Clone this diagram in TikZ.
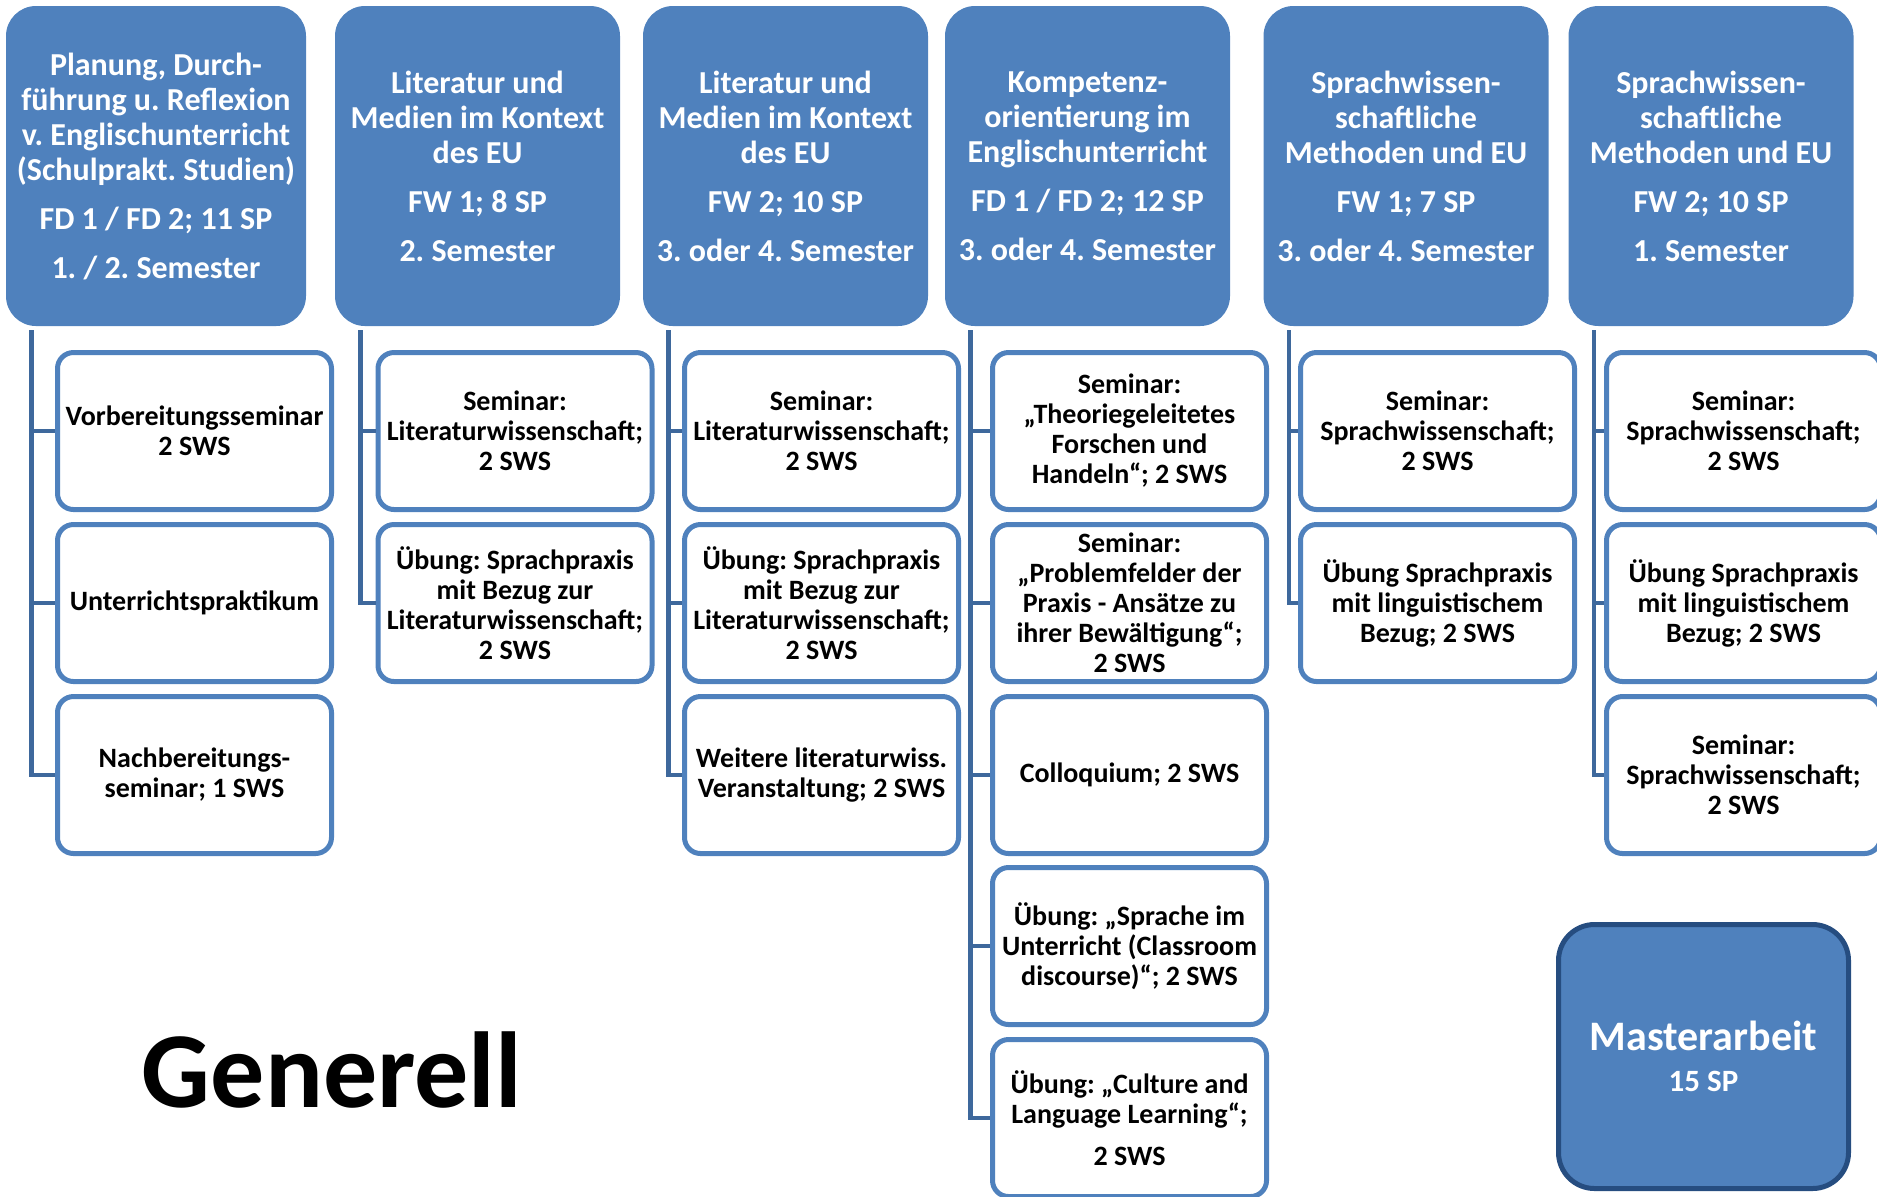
\documentclass[tikz,border=0pt]{standalone}
\usepackage{fontspec}
\setmainfont{Carlito}
\definecolor{eublue}{RGB}{79,129,189}
\definecolor{eulink}{RGB}{62,104,156}
\definecolor{eudark}{RGB}{38,77,128}
\frenchspacing
\begin{document}
\begin{tikzpicture}[x=0.5pt,y=-0.5pt,
	modul/.style={rectangle,rounded corners=15pt,fill=eublue,text=white,align=center,
	font=\fontsize{16}{17.5}\selectfont\bfseries,minimum width=142.5pt,minimum height=160pt,inner sep=2pt},
	kurs/.style={rectangle,rounded corners=8pt,draw=eublue,line width=2.5pt,fill=white,align=center,
	font=\fontsize{14}{15}\selectfont\bfseries,minimum width=137pt,minimum height=78.5pt,inner sep=2pt},
	zweig/.style={draw=eulink,line width=2.2pt}]
\useasboundingbox (0,0) rectangle (1877,1196);
% Module
\node[modul,minimum width=150pt] (h1) at (156,166) {Planung, Durch-\\führung u. Reflexion\\v. Englischunterricht\\(Schulprakt. Studien)\\[7pt]FD 1 / FD 2; 11 SP\\[7pt]1. / 2. Semester};
\node[modul] (h2) at (477.5,166) {Literatur und\\Medien im Kontext\\des EU\\[7pt]FW 1; 8 SP\\[7pt]2. Semester};
\node[modul] (h3) at (785.5,166) {Literatur und\\Medien im Kontext\\des EU\\[7pt]FW 2; 10 SP\\[7pt]3. oder 4. Semester};
\node[modul] (h4) at (1087.5,166) {Kompetenz-\\orientierung im\\Englischunterricht\\[7pt]FD 1 / FD 2; 12 SP\\[7pt]3. oder 4. Semester};
\node[modul] (h5) at (1406,166) {Sprachwissen-\\schaftliche\\Methoden und EU\\[7pt]FW 1; 7 SP\\[7pt]3. oder 4. Semester};
\node[modul] (h6) at (1711,166) {Sprachwissen-\\schaftliche\\Methoden und EU\\[7pt]FW 2; 10 SP\\[7pt]1. Semester};
% Veranstaltungen
\node[kurs] (c11) at (194.5,431) {Vorbereitungsseminar\\2 SWS};
\node[kurs] (c12) at (194.5,603) {Unterrichtspraktikum};
\node[kurs] (c13) at (194.5,775) {Nachbereitungs-\\seminar; 1 SWS};
\node[kurs] (c21) at (515,431) {Seminar:\\Literaturwissenschaft;\\2 SWS};
\node[kurs] (c22) at (515,603) {Übung: Sprachpraxis\\mit Bezug zur\\Literaturwissenschaft;\\2 SWS};
\node[kurs] (c31) at (821.5,431) {Seminar:\\Literaturwissenschaft;\\2 SWS};
\node[kurs] (c32) at (821.5,603) {Übung: Sprachpraxis\\mit Bezug zur\\Literaturwissenschaft;\\2 SWS};
\node[kurs] (c33) at (821.5,775) {Weitere literaturwiss.\\Veranstaltung; 2 SWS};
\node[kurs] (c41) at (1129.5,431) {Seminar:\\„Theoriegeleitetes\\Forschen und\\Handeln“; 2 SWS};
\node[kurs] (c42) at (1129.5,603) {Seminar:\\„Problemfelder der\\Praxis - Ansätze zu\\ihrer Bewältigung“;\\2 SWS};
\node[kurs] (c43) at (1129.5,775) {Colloquium; 2 SWS};
\node[kurs] (c44) at (1129.5,946) {Übung: „Sprache im\\Unterricht (Classroom\\discourse)“; 2 SWS};
\node[kurs] (c45) at (1129.5,1118) {Übung: „Culture and\\Language Learning“;\\[6pt]2 SWS};
\node[kurs] (c51) at (1437.5,431) {Seminar:\\Sprachwissenschaft;\\2 SWS};
\node[kurs] (c52) at (1437.5,603) {Übung Sprachpraxis\\mit linguistischem\\Bezug; 2 SWS};
\node[kurs] (c61) at (1743.5,431) {Seminar:\\Sprachwissenschaft;\\2 SWS};
\node[kurs] (c62) at (1743.5,603) {Übung Sprachpraxis\\mit linguistischem\\Bezug; 2 SWS};
\node[kurs] (c63) at (1743.5,775) {Seminar:\\Sprachwissenschaft;\\2 SWS};
% Verbindungen
\foreach \h/\k in {1/3,2/2,3/3,4/5,5/2,6/3}
	\foreach \r in {1,...,\k}
		\draw[zweig] ([shift={(26,4)}]h\h.south west) |- (c\h\r.west);
\node[rectangle,rounded corners=18pt,fill=eublue,draw=eudark,line width=2.5pt,text=white,align=center,
	font=\fontsize{21}{20.5}\selectfont\bfseries,minimum width=145pt,minimum height=132pt] (ma) at (1703.5,1056.5)
	{Masterarbeit\\\fontsize{15.5}{20.5}\selectfont 15 SP};
\node[font=\fontsize{54}{60}\selectfont\bfseries,anchor=base] (gen) at (332,1107) {Generell};
\end{tikzpicture}
\end{document}
